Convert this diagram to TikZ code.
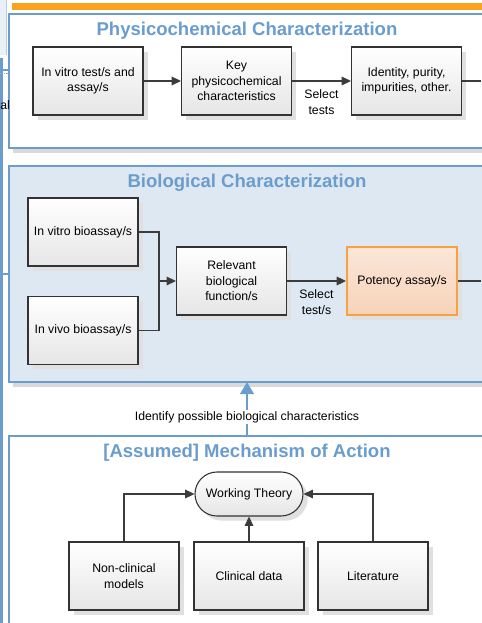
\documentclass[tikz,border=0pt]{standalone}
\usepackage{fontspec}
\setmainfont{Liberation Sans}
\usepackage{tikz}
\usepackage{xcolor}
\usetikzlibrary{positioning}
\usetikzlibrary{arrows.meta}
\usetikzlibrary{shadows}
\definecolor{frame}{HTML}{6A9DCD}
\definecolor{paneblue}{HTML}{DEE8F2}
\definecolor{stripblue}{HTML}{E9F0F8}
\definecolor{barorange}{HTML}{FBA31C}
\definecolor{potency}{HTML}{F8A13E}
\definecolor{potencytop}{HTML}{FBE6D8}
\definecolor{potencybot}{HTML}{F6D3BA}
\definecolor{arrowgray}{HTML}{3C3C3C}
\definecolor{szurke}{gray}{0.85}

\begin{document}
\begin{tikzpicture}[x=0.75pt, y=-0.75pt,
    boxnode/.style={shape=rectangle, draw=black!80, line width=0.8pt, top color=white, bottom color=black!10,
        minimum width=82.5pt, minimum height=51pt, align=center, inner sep=1pt,
        font=\fontsize{9.2}{11.6}\selectfont,
        drop shadow={shadow xshift=3.5pt, shadow yshift=-3.5pt, fill=black!12, opacity=1}},
    potencynode/.style={boxnode, draw=potency, line width=1.5pt, top color=potencytop, bottom color=potencybot},
    theorynode/.style={boxnode, minimum width=81pt, minimum height=33pt, rounded corners=16.5pt},
    titlenode/.style={text=frame, font=\fontsize{13.9}{16}\selectfont\bfseries},
    labelnode/.style={text=black, align=center, font=\fontsize{9.2}{11.4}\selectfont},
    flow/.style={draw=arrowgray, line width=0.8pt, -{Triangle[length=7pt, width=6.5pt]}}
]
\useasboundingbox (0,0) rectangle (481,623);

% Coordinates
\coordinate (phys_out) at (481,81);
\coordinate (bio_out) at (481,281);
\coordinate (bio_bottom) at (247,382);
\coordinate (moa_top) at (247,436);
\coordinate (join) at (159,281);

% Cut-off bits on the left and top
\fill[barorange] (12,3) rectangle (490,10);
\fill[stripblue] (0,0) rectangle (6,55);
\draw[frame!50, line width=0.6pt] (6.5,0) -- (6.5,55);
\draw[frame, line width=1.5pt] (1.5,58) -- (1.5,623);
\draw[frame, line width=1.5pt] (0,70) -- (9,70);
\draw[frame, line width=1.5pt] (0,274) -- (9,274);
\draw[black!35, densely dotted] (0,73) -- (14,73);

% Panels
\fill[szurke] (13,18) rectangle (505,153);
\draw[frame, line width=1.5pt, fill=white] (9,14) rectangle (500,148);
\fill[szurke] (13,170) rectangle (505,387);
\draw[frame, line width=1.5pt, fill=paneblue] (9,166) rectangle (500,382);
\draw[frame, line width=1.5pt, fill=white] (9,436) rectangle (500,640);

\node[labelnode, anchor=west, inner sep=0] (cutlabel) at (0,105) {al};

\node[titlenode] (phys_title) at (247,30.5) {Physicochemical Characterization};
\node[titlenode] (bio_title) at (247,182.5) {Biological Characterization};
\node[titlenode] (moa_title) at (247,452.5) {[Assumed] Mechanism of Action};

% Boxes

% physicochemical
\node[boxnode] (invitro_test) at (88,81) {In vitro test/s and\\assay/s};
\node[boxnode] (key) at (236.5,81) {Key\\physicochemical\\characteristics};
\node[boxnode] (identity) at (406.5,81) {Identity, purity,\\impurities, other.};

% biological
\node[boxnode] (invitro_bio) at (83,232) {In vitro bioassay/s};
\node[boxnode] (invivo_bio) at (83,330.5) {In vivo bioassay/s};
\node[boxnode] (relevant) at (231.5,281) {Relevant\\biological\\function/s};
\node[potencynode] (potency) at (402,281) {Potency assay/s};

% mechanism of action
\node[theorynode] (theory) at (249,494) {Working Theory};
\node[boxnode] (nonclinical) at (124,576) {Non-clinical\\models};
\node[boxnode] (clinical) at (249,576) {Clinical data};
\node[boxnode] (literature) at (373,576) {Literature};

% Arrows
\draw[flow] (invitro_test) -- (key);
\draw[flow] (key) -- node[labelnode, below=3pt] (select_tests) {Select\\tests} (identity);
\draw[draw=arrowgray, line width=0.8pt] (identity) -- (phys_out);

\draw[draw=arrowgray, line width=0.8pt] (invitro_bio.east) -| (join);
\draw[draw=arrowgray, line width=0.8pt] (invivo_bio.east) -| (join);
\draw[flow] (join) -- (relevant);
\draw[flow] (relevant) -- node[labelnode, below=3pt] (select_test) {Select\\test/s} (potency);
\draw[draw=arrowgray, line width=0.8pt] (potency) -- (bio_out);

\draw[frame, line width=2pt, -{Triangle[length=9pt, width=10pt]}] (moa_top) -- node[labelnode, fill=white, inner sep=1pt, pos=0.35] (identify) {Identify possible biological characteristics} (bio_bottom);

\draw[flow] (nonclinical.north) |- (theory.west);
\draw[flow] (clinical) -- (theory);
\draw[flow] (literature.north) |- (theory.east);

\end{tikzpicture}
\end{document}
